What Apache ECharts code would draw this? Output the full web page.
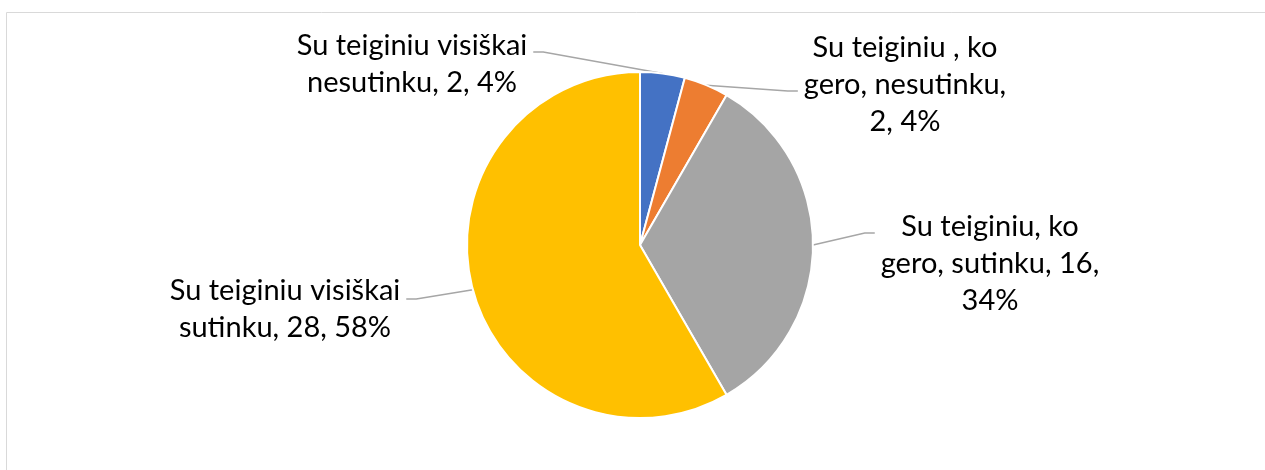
<!DOCTYPE html>
<html>
<head>
<meta charset="utf-8">
<script src="https://cdn.jsdelivr.net/npm/echarts@6/dist/echarts.min.js"></script>
<style>
	html, body { margin: 0; padding: 0; background: #fff; }
	#chart { width: 1265px; height: 470px; }
</style>
</head>
<body>
<div id="chart"></div>
<script>
// answers and counts
const categories = [
	'Su teiginiu visiškai nesutinku',
	'Su teiginiu , ko gero, nesutinku',
	'Su teiginiu, ko gero, sutinku',
	'Su teiginiu visiškai sutinku',
];
const counts = [2, 2, 16, 28];
const percents = [4, 4, 34, 58];
const colors = ['#4472C4', '#ED7D31', '#A5A5A5', '#FFC000'];

// how many words go on each line of a label
const wordsPerLine = [[3, 3], [4, 2, 2], [3, 3, 1], [3, 3]];

// where each label sits (centre) and which side the leader line joins
const labelSpots = [
	{ x: 412, y: 64, side: 'right', lineY: 52 },
	{ x: 905, y: 85, side: 'left', lineY: 91 },
	{ x: 990, y: 264, side: 'left', lineY: 233 },
	{ x: 285, y: 309, side: 'right', lineY: 299 },
];

const wrapLabel = (text, counts) => {
	const words = text.split(' ');
	const lines = [];
	let i = 0;
	counts.forEach((n) => {
		lines.push(words.slice(i, i + n).join(' '));
		i += n;
	});
	return lines.join('\n');
};

const chart = echarts.init(document.getElementById('chart'));

const option = {
	animation: false,
	graphic: [{
		type: 'rect',
		silent: true,
		shape: { x: 6.5, y: 12.5, width: 1300, height: 600 },
		style: { fill: 'none', stroke: '#D9D9D9', lineWidth: 1 },
	}],
	series: [{
		type: 'pie',
		center: [640, 245],
		radius: 173,
		startAngle: 90,
		clockwise: true,
		data: categories.map((name, i) => ({
			name,
			value: counts[i],
			itemStyle: { color: colors[i] },
		})),
		itemStyle: { borderColor: '#fff', borderWidth: 2 },
		label: {
			show: true,
			color: '#000',
			fontFamily: 'Lato, "Liberation Sans", sans-serif',
			fontSize: 29,
			lineHeight: 37,
			align: 'center',
			formatter: (p) => wrapLabel(`${p.name}, ${p.value}, ${percents[p.dataIndex]}%`, wordsPerLine[p.dataIndex]),
		},
		labelLine: {
			show: true,
			length: 20,
			length2: 10,
			lineStyle: { color: '#A6A6A6', width: 1.5 },
		},
		labelLayout: (params) => {
			const spot = labelSpots[params.dataIndex];
			const w = params.labelRect.width;
			const start = params.labelLinePoints[0];
			const edge = spot.side === 'right' ? spot.x + w / 2 + 6 : spot.x - w / 2 - 6;
			const knee = spot.side === 'right' ? edge + 10 : edge - 10;
			return {
				x: spot.x,
				y: spot.y,
				align: 'center',
				verticalAlign: 'middle',
				labelLinePoints: [start, [knee, spot.lineY], [edge, spot.lineY]],
			};
		},
		emphasis: { disabled: true },
	}],
};

chart.setOption(option);
</script>
</body>
</html>
